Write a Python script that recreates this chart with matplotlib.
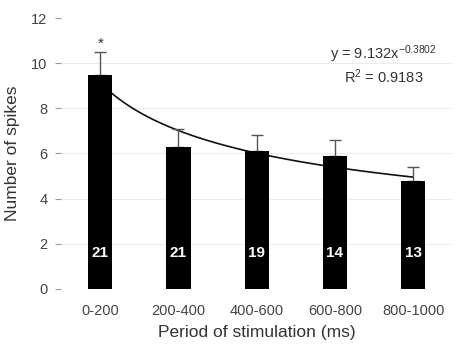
import matplotlib
matplotlib.use('Agg')
import matplotlib.pyplot as plt
import numpy as np

periodos = ['0-200', '200-400', '400-600', '600-800', '800-1000']
spikes = [9.5, 6.3, 6.1, 5.9, 4.8]
erro = [1.0, 0.8, 0.7, 0.7, 0.6]
n_celulas = ['21', '21', '19', '14', '13']

# ajuste de potencia y = a * x^b
a_fit = 9.132
b_fit = -0.3802
r2 = 0.9183

plt.rcParams['font.family'] = ['Liberation Sans', 'DejaVu Sans']
plt.rcParams['mathtext.fontset'] = 'custom'
plt.rcParams['mathtext.rm'] = 'Liberation Sans'
plt.rcParams['mathtext.it'] = 'Liberation Sans'
plt.rcParams['mathtext.default'] = 'regular'

fig = plt.figure(figsize=(4.6, 3.48), dpi=100)
ax = fig.add_axes([0.133, 0.17, 0.85, 0.778])

x = np.arange(len(periodos))

for yy in [2, 4, 6, 8, 10]:
    ax.axhline(yy, color='#ececec', lw=0.8, zorder=0)

xs = np.linspace(1, 5, 100)
ax.plot(xs - 1, a_fit * xs ** b_fit, color='#111111', lw=1.2, zorder=1)

ax.bar(x, spikes, width=0.31, color='black', zorder=2)
ax.errorbar(x, spikes, yerr=[np.zeros(len(erro)), erro], fmt='none',
            ecolor='#555555', elinewidth=1, capsize=4, capthick=1, zorder=1.5)

for i, n in enumerate(n_celulas):
    ax.text(x[i], 1.6, n, color='white', fontweight='bold', fontsize=11,
            ha='center', va='center', zorder=3)

ax.text(x[0], spikes[0] + erro[0] + 0.35, '*', ha='center', va='center',
        fontsize=11, color='#333333')

ax.text(3.62, 10.4, 'y = 9.132x$^{-0.3802}$', ha='center', va='center',
        fontsize=10.5, color='#333333')
ax.text(3.62, 9.4, 'R$^2$ = 0.9183', ha='center', va='center',
        fontsize=10.5, color='#333333')

ax.set_xlim(-0.5, 4.5)
ax.set_ylim(0, 12)
ax.set_yticks([0, 2, 4, 6, 8, 10, 12])
ax.set_xticks(x)
ax.set_xticklabels(periodos)
for s in ax.spines.values():
    s.set_visible(False)
ax.tick_params(axis='y', length=4, color='#999999', labelcolor='#444444',
               labelsize=10.5, pad=6)
ax.tick_params(axis='x', length=0, labelcolor='#444444', labelsize=10.5, pad=11)

ax.set_xlabel('Period of stimulation (ms)', fontsize=12.5, color='#333333', labelpad=5)
ax.set_ylabel('Number of spikes', fontsize=12.5, color='#333333', labelpad=8)

plt.savefig('out.png', dpi=100)
